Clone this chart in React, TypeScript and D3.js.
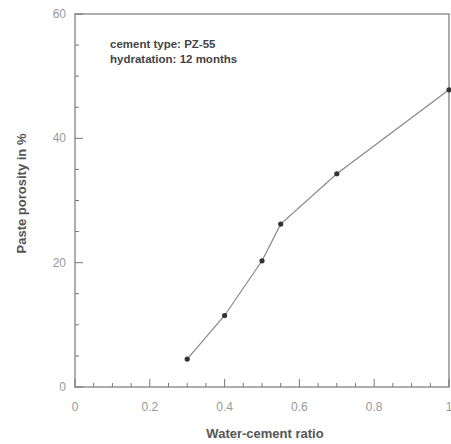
import React from "react";
import * as d3 from "d3";

const ratios = [0.3, 0.4, 0.5, 0.55, 0.7, 1.0];
const porosity = [4.5, 11.5, 20.3, 26.2, 34.3, 47.8];
const xTicks = [0, 0.2, 0.4, 0.6, 0.8, 1];
const yTicks = [0, 20, 40, 60];
const notes = ["cement type: PZ-55", "hydratation: 12 months"];

const W = 451;
const H = 444;
const left = 75;
const right = 449;
const top = 14;
const bottom = 387;

export default function App() {
  const x = d3.scaleLinear().domain([0, 1]).range([left, right]);
  const y = d3.scaleLinear().domain([0, 60]).range([bottom, top]);
  const pts = ratios.map((r, i) => [r, porosity[i]] as [number, number]);
  const line = d3
    .line<[number, number]>()
    .x((d) => x(d[0]))
    .y((d) => y(d[1]));

  const xMinor = d3.range(0, 1.0001, 0.05);
  const yMinor = d3.range(0, 60.001, 5);
  const font = "Arial, 'Liberation Sans', sans-serif";

  return (
    <svg
      width={W}
      height={H}
      style={{ position: "absolute", left: 0, top: 0, background: "#fff" }}
      fontFamily={font}
    >
      <rect
        x={left}
        y={top}
        width={right - left}
        height={bottom - top}
        fill="none"
        stroke="#777"
        strokeWidth={1.2}
      />
      {xMinor.map((t, i) => {
        const major = i % 4 === 0;
        return (
          <line
            key={"xm" + i}
            x1={x(t)}
            x2={x(t)}
            y1={bottom}
            y2={bottom - (major ? 8 : 4)}
            stroke="#777"
            strokeWidth={1}
          />
        );
      })}
      {yMinor.map((t, i) => {
        const major = i % 4 === 0;
        return (
          <line
            key={"ym" + i}
            x1={left}
            x2={left + (major ? 8 : 4)}
            y1={y(t)}
            y2={y(t)}
            stroke="#777"
            strokeWidth={1}
          />
        );
      })}
      {xTicks.map((t) => (
        <text
          key={"xt" + t}
          x={x(t)}
          y={bottom + 24}
          textAnchor="middle"
          fontSize={12}
          fill="#999"
        >
          {String(t)}
        </text>
      ))}
      {yTicks.map((t) => (
        <text
          key={"yt" + t}
          x={left - 9}
          y={y(t) + 4}
          textAnchor="end"
          fontSize={12}
          fill="#999"
        >
          {t}
        </text>
      ))}
      <text
        x={(left + right) / 2 + 3}
        y={438}
        textAnchor="middle"
        fontSize={13}
        fontWeight="bold"
        fill="#555"
      >
        Water-cement ratio
      </text>
      <text
        transform={`translate(26,${(top + bottom) / 2 - 7}) rotate(-90)`}
        textAnchor="middle"
        fontSize={13}
        fontWeight="bold"
        fill="#555"
      >
        Paste porosity in %
      </text>
      {notes.map((n, i) => (
        <text
          key={n}
          x={110}
          y={48 + i * 15}
          fontSize={11.5}
          fontWeight="bold"
          fill="#444"
        >
          {n}
        </text>
      ))}
      <path d={line(pts) || ""} fill="none" stroke="#888" strokeWidth={1.2} />
      {pts.map((d, i) => (
        <circle key={i} cx={x(d[0])} cy={y(d[1])} r={2.6} fill="#333" />
      ))}
    </svg>
  );
}
